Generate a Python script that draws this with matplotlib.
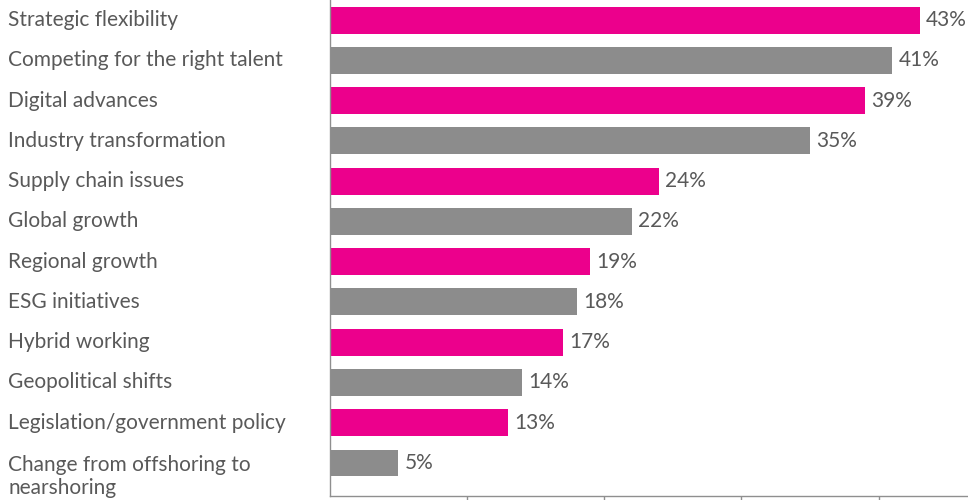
import matplotlib.pyplot as plt
from matplotlib.transforms import blended_transform_factory

plt.rcParams['font.family'] = ['Lato', 'DejaVu Sans']

categories = [
    'Strategic flexibility',
    'Competing for the right talent',
    'Digital advances',
    'Industry transformation',
    'Supply chain issues',
    'Global growth',
    'Regional growth',
    'ESG initiatives',
    'Hybrid working',
    'Geopolitical shifts',
    'Legislation/government policy',
    'Change from offshoring to\nnearshoring',
]
values = [43, 41, 39, 35, 24, 22, 19, 18, 17, 14, 13, 5]

pink = '#EC008C'
grey = '#8C8C8C'
text_col = '#595959'
bar_colors = [pink if i % 2 == 0 else grey for i in range(len(values))]

fig = plt.figure(figsize=(9.68, 5.0), dpi=100)
ax = fig.add_axes([329.5 / 968, 4 / 500, (968 - 329.5) / 968, 496 / 500])

pos = list(range(len(values)))
ax.barh(pos, values, height=0.67, color=bar_colors)

ax.set_xlim(0, 46.5)
ax.set_ylim(len(values) - 0.18, -0.5)

for y, v in zip(pos, values):
    ax.text(v + 0.45, y, f'{v}%', va='center', ha='left',
            fontsize=15, color=text_col)

# category labels sit at a fixed pixel offset from the left of the figure
trans = blended_transform_factory(fig.transFigure, ax.transData)
for y, lab in zip(pos, categories):
    if '\n' in lab:
        ax.text(8 / 968, y - 0.2, lab, va='top', ha='left', transform=trans,
                fontsize=15, color=text_col, linespacing=1.2)
    else:
        ax.text(8 / 968, y, lab, va='center', ha='left', transform=trans,
                fontsize=15, color=text_col)

for s in ['top', 'right']:
    ax.spines[s].set_visible(False)
for s in ['left', 'bottom']:
    ax.spines[s].set_color('#8f8f8f')
    ax.spines[s].set_linewidth(1)

ax.set_yticks([])
ax.set_xticks([10, 20, 30, 40])
ax.set_xticklabels([])
ax.tick_params(axis='x', length=6, color='#8f8f8f', width=1)

fig.savefig('out.png', dpi=100)
